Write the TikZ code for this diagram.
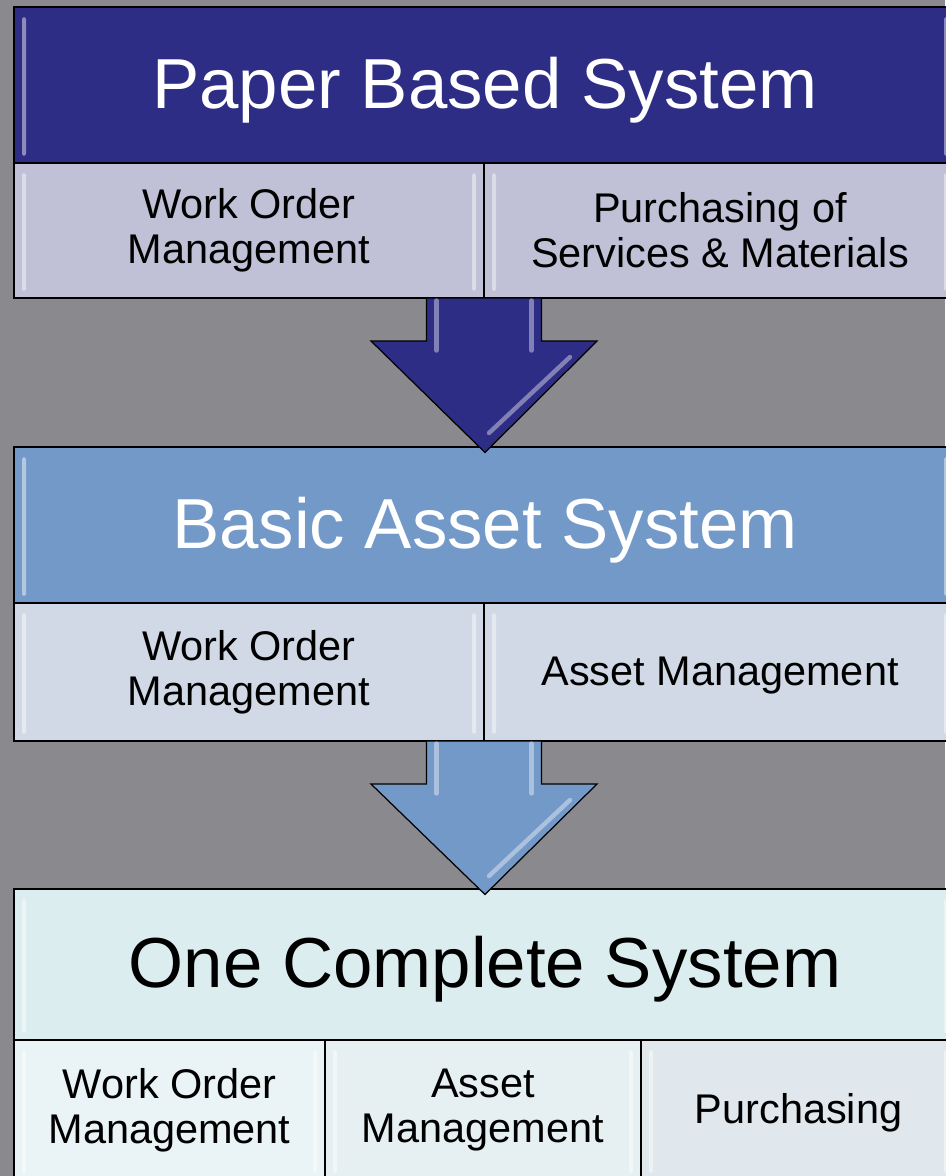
\documentclass[tikz,border=0pt]{standalone}
\usepackage{fontspec}
\setmainfont{Liberation Sans}
\usetikzlibrary{positioning,calc}
\definecolor{backgr}{RGB}{138,137,142}
\definecolor{paperhead}{RGB}{46,45,133}
\definecolor{papercell}{RGB}{192,192,214}
\definecolor{basichead}{RGB}{115,153,200}
\definecolor{basiccell}{RGB}{208,217,229}
\definecolor{onehead}{RGB}{219,237,238}
\definecolor{onecellA}{RGB}{234,243,245}
\definecolor{onecellB}{RGB}{230,239,242}
\definecolor{onecellC}{RGB}{224,232,238}
\tikzset{
    box/.style={draw=black, line width=1pt, inner sep=0pt, outer sep=0pt, align=center,
        execute at begin node={\rule{0pt}{0.87em}},
        path picture={
            \fill[white, opacity=.45, rounded corners=1pt] ([xshift=0.16cm,yshift=-0.2cm]path picture bounding box.north west) rectangle ([xshift=0.24cm,yshift=0.14cm]path picture bounding box.south west);
            \fill[white, opacity=.45, rounded corners=1pt] ([xshift=-0.16cm,yshift=-0.2cm]path picture bounding box.north east) rectangle ([xshift=-0.24cm,yshift=0.14cm]path picture bounding box.south east);
        }},
    head/.style={box, minimum width=18.84cm, minimum height=3.12cm, font=\fontsize{40.3}{48}\selectfont},
    cell/.style={box, minimum height=2.7cm, font=\fontsize{23.6}{25.5}\selectfont},
    blockarrow/.style={draw=black, line width=0.7pt, line join=miter},
    shine/.style={white, opacity=.4, line width=2.5pt, line cap=round},
}
\begin{document}
\begin{tikzpicture}
    \path[use as bounding box, fill=backgr] (0,0) rectangle (18.9,-23.52);

    \node[head, fill=paperhead, text=white, anchor=north west] (hdrA) at (0.28,-0.14) {Paper Based System};
    \node[cell, fill=papercell, minimum width=9.4cm, below right=0pt and 0pt of hdrA.south west] (A1) {Work Order\\Management};
    \node[cell, fill=papercell, minimum width=9.44cm, right=0pt of A1] (A2) {Purchasing of\\Services \& Materials};

    \node[head, fill=basichead, text=white, anchor=north west] (hdrB) at (0.28,-8.94) {Basic Asset System};
    \node[cell, fill=basiccell, minimum width=9.4cm, minimum height=2.76cm, below right=0pt and 0pt of hdrB.south west] (B1) {Work Order\\Management};
    \node[cell, fill=basiccell, minimum width=9.44cm, minimum height=2.76cm, right=0pt of B1] (B2) {Asset Management};

    \node[head, fill=onehead, text=black, minimum height=3.02cm, anchor=north west] (hdrC) at (0.28,-17.78) {One Complete System};
    \node[cell, fill=onecellA, minimum width=6.22cm, minimum height=2.8cm, below right=0pt and 0pt of hdrC.south west] (C1) {Work Order\\Management};
    \node[cell, fill=onecellB, minimum width=6.32cm, minimum height=2.8cm, right=0pt of C1] (C2) {Asset\\Management};
    \node[cell, fill=onecellC, minimum width=6.3cm, minimum height=2.8cm, right=0pt of C2] (C3) {Purchasing};

    \foreach \src/\dst/\col in {A1/hdrB/paperhead, B1/hdrC/basichead}{
        \coordinate (s) at (\src.south east);
        \coordinate (t) at ([yshift=-0.11cm]\dst.north);
        \draw[blockarrow, fill=\col] ($(s)+(-1.15,0)$) -- ($(s)+(-1.15,-0.86)$) -- ($(s)+(-2.26,-0.86)$) -- (t) -- ($(s)+(2.26,-0.86)$) -- ($(s)+(1.15,-0.86)$) -- ($(s)+(1.15,0)$) -- cycle;
        \draw[shine] ($(s)+(-0.95,-0.05)$) -- ($(s)+(-0.95,-1.05)$);
        \draw[shine] ($(s)+(0.95,-0.05)$) -- ($(s)+(0.95,-1.05)$);
        \draw[shine] ($(s)+(1.72,-1.18)$) -- ($(s)+(0.1,-2.7)$);
    }
\end{tikzpicture}
\end{document}
